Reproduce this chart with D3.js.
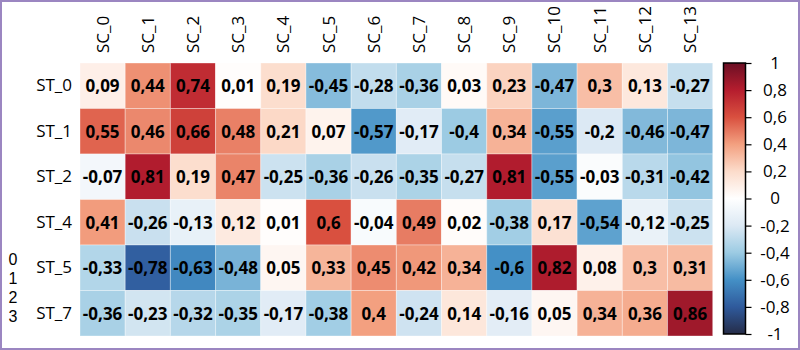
<!DOCTYPE html>
<html>
<head>
<meta charset="utf-8">
<script src="https://cdn.jsdelivr.net/npm/d3@7"></script>
<style>
  html, body { margin: 0; padding: 0; background: #fff; }
  svg { display: block; font-family: "Open Sans", "Noto Sans", sans-serif; }
</style>
</head>
<body>
<svg id="chart" width="800" height="350"></svg>
<script>
// ---- data ----
const columns = ["SC_0","SC_1","SC_2","SC_3","SC_4","SC_5","SC_6","SC_7","SC_8","SC_9","SC_10","SC_11","SC_12","SC_13"];
const rows = ["ST_0","ST_1","ST_2","ST_4","ST_5","ST_7"];
const rowST0 = [0.09, 0.44, 0.74, 0.01, 0.19, -0.45, -0.28, -0.36, 0.03, 0.23, -0.47, 0.3, 0.13, -0.27];
const rowST1 = [0.55, 0.46, 0.66, 0.48, 0.21, 0.07, -0.57, -0.17, -0.4, 0.34, -0.55, -0.2, -0.46, -0.47];
const rowST2 = [-0.07, 0.81, 0.19, 0.47, -0.25, -0.36, -0.26, -0.35, -0.27, 0.81, -0.55, -0.03, -0.31, -0.42];
const rowST4 = [0.41, -0.26, -0.13, 0.12, 0.01, 0.6, -0.04, 0.49, 0.02, -0.38, 0.17, -0.54, -0.12, -0.25];
const rowST5 = [-0.33, -0.78, -0.63, -0.48, 0.05, 0.33, 0.45, 0.42, 0.34, -0.6, 0.82, 0.08, 0.3, 0.31];
const rowST7 = [-0.36, -0.23, -0.32, -0.35, -0.17, -0.38, 0.4, -0.24, 0.14, -0.16, 0.05, 0.34, 0.36, 0.86];
const values = [rowST0, rowST1, rowST2, rowST4, rowST5, rowST7];
const colorbarTicks = [-1, -0.8, -0.6, -0.4, -0.2, 0, 0.2, 0.4, 0.6, 0.8, 1];
const sideLabels = ["0", "1", "2", "3"];

// ---- colour scale ----
const stopValues = [-1, -0.8, -0.6, -0.4, -0.2, 0, 0.2, 0.4, 0.6, 0.8, 1];
const stopColors = ["#252c48", "#2f5a9c", "#4490c6", "#9ccbe3", "#dce9f4", "#ffffff",
                    "#fcdccb", "#f3a080", "#d9503f", "#b51d2e", "#6b0f24"];
const color = d3.scaleLinear().domain(stopValues).range(stopColors).interpolate(d3.interpolateRgb).clamp(true);

const fmt = v => String(+v.toFixed(2)).replace(".", ",");

const svg = d3.select("#chart");

// border
svg.append("rect").attr("x", 1).attr("y", 1).attr("width", 798).attr("height", 348)
  .attr("fill", "none").attr("stroke", "#9b86c1").attr("stroke-width", 2);

const x = d3.scaleBand().domain(columns).range([80, 712.7]).padding(0);
const y = d3.scaleBand().domain(rows).range([63, 336]).padding(0);

const cells = [];
rows.forEach((r, i) => columns.forEach((c, j) => cells.push({ r, c, v: values[i][j] })));

const g = svg.append("g");
g.selectAll("rect.cell").data(cells).join("rect")
  .attr("class", "cell")
  .attr("x", d => x(d.c)).attr("y", d => y(d.r))
  .attr("width", x.bandwidth()).attr("height", y.bandwidth())
  .attr("fill", d => color(d.v))
  .attr("stroke", "rgba(255,255,255,0.35)").attr("stroke-width", 1);

g.selectAll("text.val").data(cells).join("text")
  .attr("class", "val")
  .attr("x", d => x(d.c) + x.bandwidth() / 2)
  .attr("y", d => y(d.r) + y.bandwidth() / 2)
  .attr("text-anchor", "middle").attr("dominant-baseline", "central")
  .attr("font-size", 17).attr("font-weight", "bold").attr("fill", "#000")
  .text(d => fmt(d.v));

// axes
const xAxis = svg.append("g").attr("transform", "translate(0,53)")
  .call(d3.axisTop(x).tickSize(0).tickPadding(0));
xAxis.select(".domain").remove();
xAxis.selectAll("text")
  .attr("font-size", 17).attr("font-family", "'Open Sans', 'Noto Sans', sans-serif").attr("fill", "#000")
  .attr("transform", "rotate(-90)")
  .attr("text-anchor", "start").attr("dy", "0.35em").attr("x", 0).attr("y", 0);

const yAxis = svg.append("g").attr("transform", "translate(72,0)")
  .call(d3.axisLeft(y).tickSize(0).tickPadding(0));
yAxis.select(".domain").remove();
yAxis.selectAll("text")
  .attr("font-size", 17).attr("font-family", "'Open Sans', 'Noto Sans', sans-serif").attr("fill", "#000");

// side labels
svg.append("g").selectAll("text").data(sideLabels).join("text")
  .attr("x", 13).attr("y", (d, i) => 259 + i * 19)
  .attr("text-anchor", "middle").attr("dominant-baseline", "central")
  .attr("font-family", "'Liberation Sans', Arial, sans-serif")
  .attr("font-size", 16).attr("fill", "#000").text(d => d);

// colorbar
const cbX = 723.5, cbW = 22, cbTop = 63, cbBot = 334;
const cbScale = d3.scaleLinear().domain([-1, 1]).range([cbBot, cbTop]);
const defs = svg.append("defs");
const grad = defs.append("linearGradient").attr("id", "cbgrad")
  .attr("x1", 0).attr("y1", 1).attr("x2", 0).attr("y2", 0);
grad.selectAll("stop").data(stopValues).join("stop")
  .attr("offset", d => (d + 1) / 2)
  .attr("stop-color", d => color(d));
svg.append("rect").attr("x", cbX).attr("y", cbTop).attr("width", cbW).attr("height", cbBot - cbTop)
  .attr("fill", "url(#cbgrad)").attr("stroke", "#000").attr("stroke-width", 1.5);

const cbAxis = svg.append("g").attr("transform", `translate(${cbX + cbW},0)`)
  .call(d3.axisRight(cbScale).tickValues(colorbarTicks).tickSize(6).tickPadding(4).tickFormat(fmt));
cbAxis.select(".domain").remove();
cbAxis.selectAll(".tick line").attr("stroke", "#000").attr("stroke-width", 1.2);
cbAxis.selectAll("text")
  .attr("font-size", 17).attr("font-family", "'Open Sans', 'Noto Sans', sans-serif").attr("fill", "#000")
  .attr("text-anchor", "middle").attr("x", 29.5);
</script>
</body>
</html>
